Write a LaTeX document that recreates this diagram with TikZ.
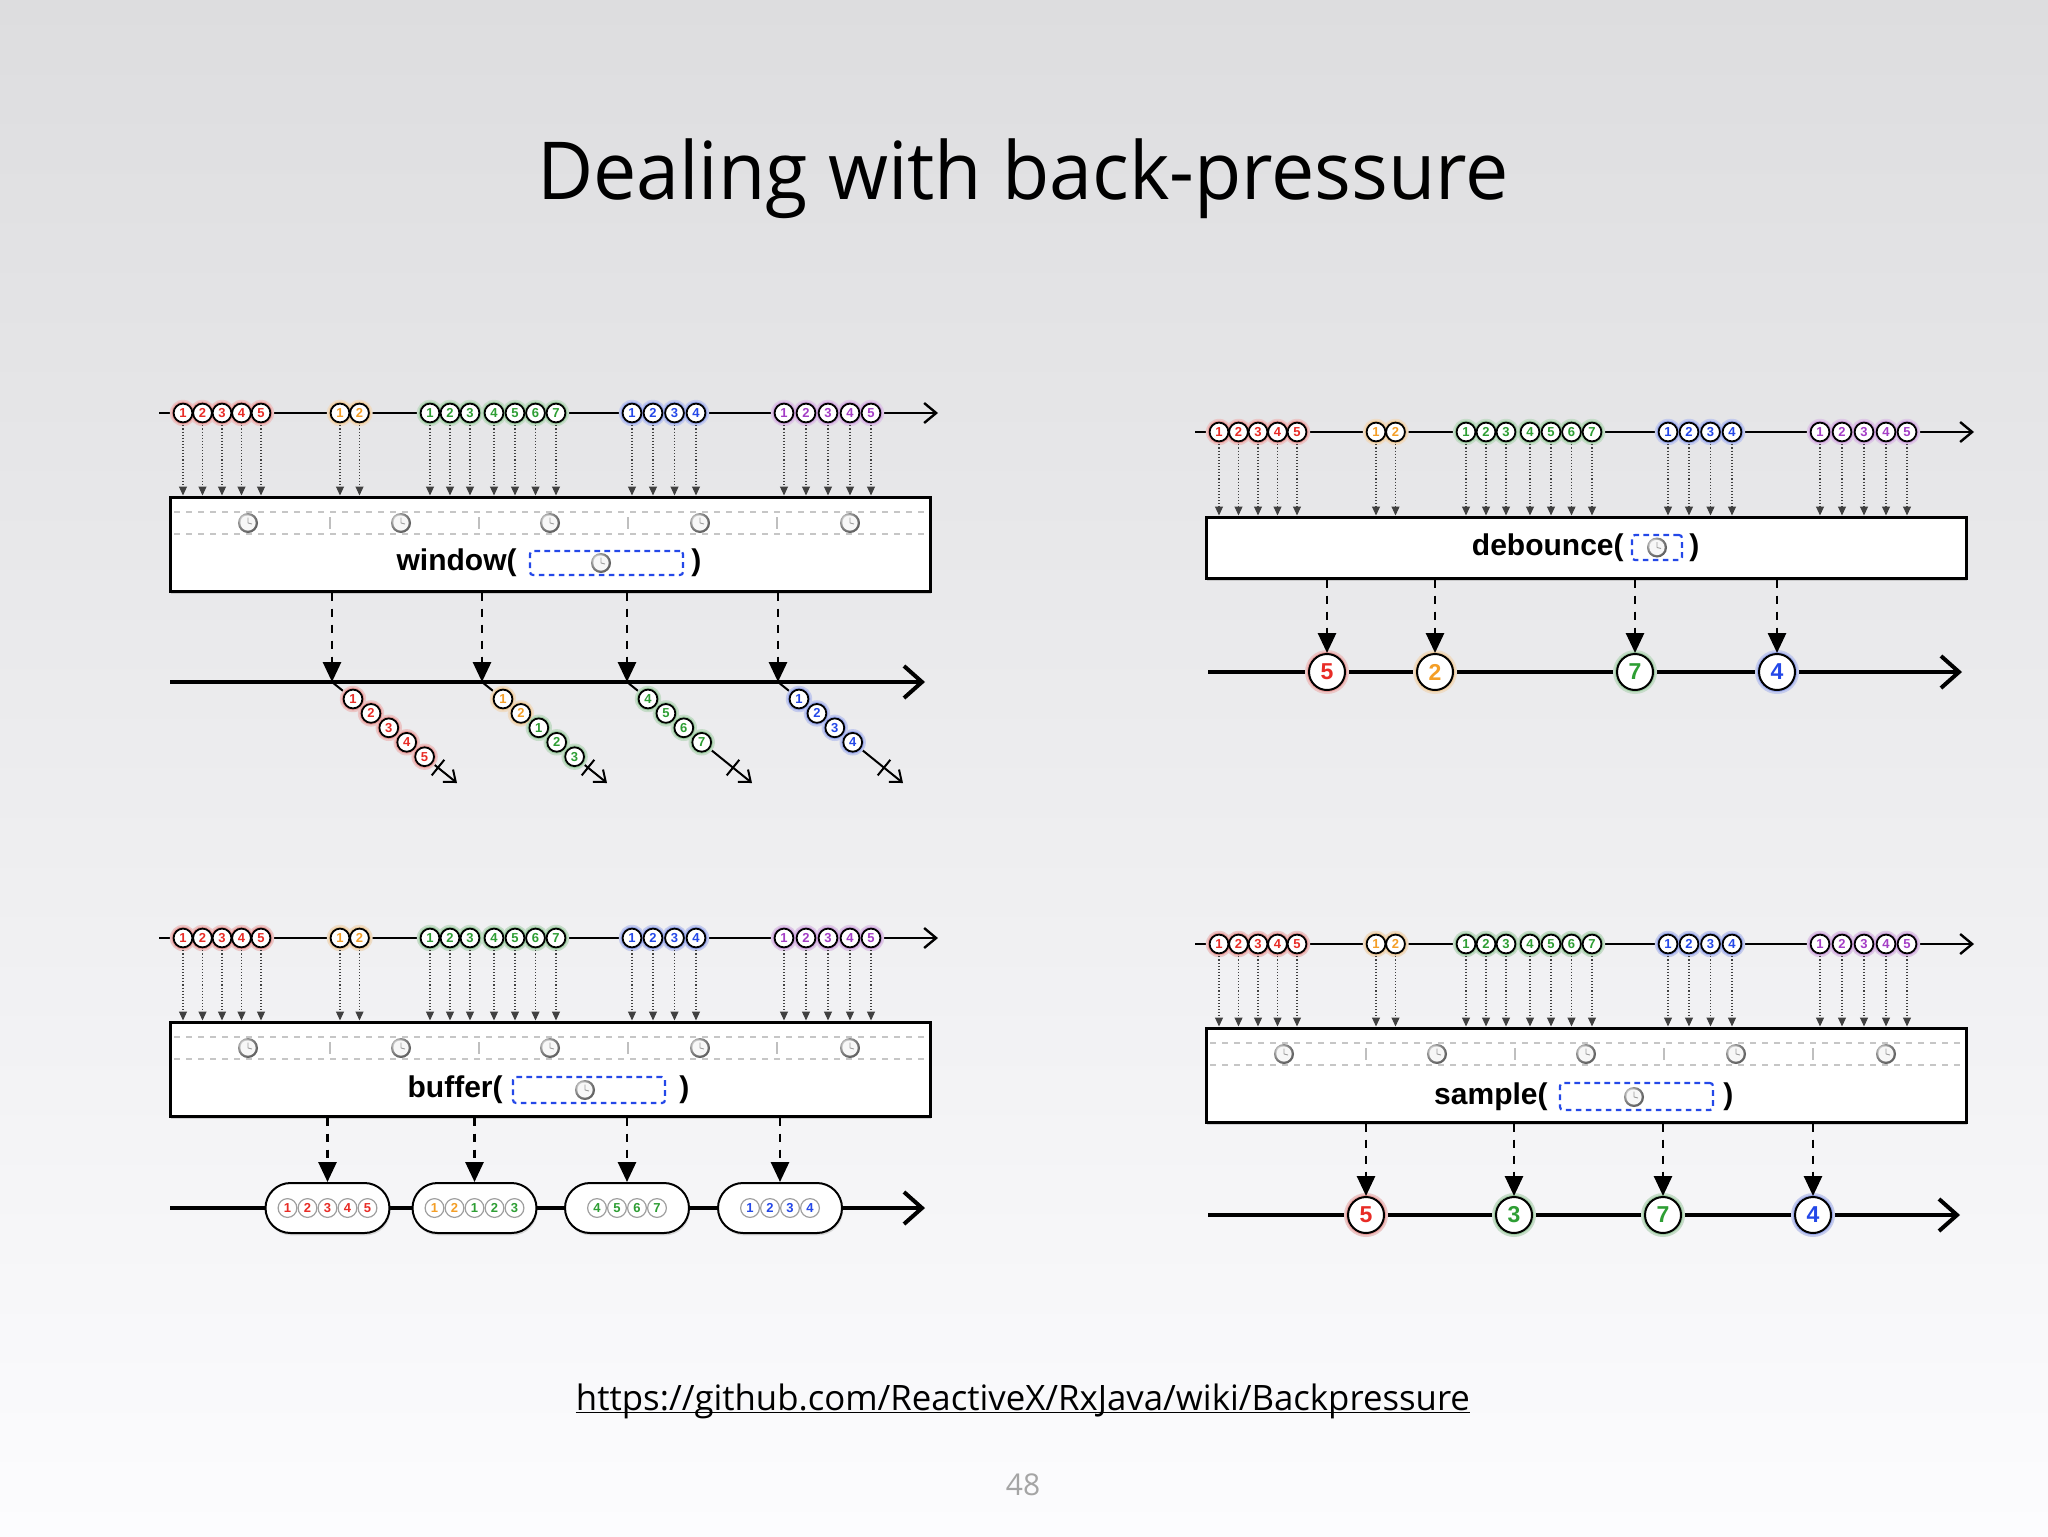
\documentclass[tikz,border=0pt]{standalone}
\usepackage{fontspec}
\setmainfont{Open Sans}
\newfontfamily\hel{Liberation Sans}
\usetikzlibrary{arrows.meta,shadows,calc,shapes.misc}
\definecolor{mred}{RGB}{232,44,38}
\definecolor{morange}{RGB}{244,158,38}
\definecolor{mgreen}{RGB}{46,158,52}
\definecolor{mblue}{RGB}{36,72,232}
\definecolor{mpurple}{RGB}{164,62,198}
\definecolor{bgc}{RGB}{236,236,238}
\definecolor{bgtop}{RGB}{221,221,223}
\definecolor{bgbot}{RGB}{252,252,254}
\definecolor{pgnum}{RGB}{165,165,165}
\tikzset{
  marble/.style={circle,draw=black,line width=0.9pt,fill=white,inner sep=0pt,minimum size=9.4pt,font=\hel\bfseries\fontsize{6.5}{6.5}\selectfont},
  bigmarble/.style={marble,minimum size=18pt,line width=1pt,font=\hel\bfseries\fontsize{11.5}{11.5}\selectfont},
  pmarble/.style={marble,draw=gray!75,line width=0.6pt},
  topline/.style={line width=1.2pt,-{Straight Barb[length=6pt,width=10pt,line width=1.2pt]}},
  outline/.style={line width=2pt,-{Straight Barb[length=9pt,width=16pt,line width=2pt]}},
  inarrow/.style={line width=0.55pt,black!75,densely dotted,-{Triangle[length=4.5pt,width=4pt]},shorten <=1pt},
  outarrow/.style={line width=1.4pt,dash pattern=on 4pt off 4pt,-{Triangle[length=10pt,width=9pt]}},
  opbox/.style={draw=black,line width=1.5pt,fill=white,inner sep=0pt,minimum width=380pt,drop shadow={shadow xshift=0.6pt,shadow yshift=-1.6pt,opacity=0.3}},
  argbox/.style={draw=mblue,line width=1.1pt,dash pattern=on 2.8pt off 2.2pt,rounded corners=1.5pt,inner sep=0pt},
  opfont/.style={font=\hel\bfseries\fontsize{15}{15}\selectfont,inner sep=0pt},
  diag/.style={line width=1pt,-{Straight Barb[length=5pt,width=8pt,line width=1pt]}},
  pill/.style={rounded rectangle,draw=black,line width=1pt,fill=white,minimum width=62pt,minimum height=25pt,inner sep=0pt,drop shadow={shadow xshift=0.5pt,shadow yshift=-1.2pt,opacity=0.25}},
  clockrow/.style={gray!45,line width=0.7pt,dash pattern=on 3pt off 3pt},
}
\newcommand\clk[1]{%
  \shade[ball color=gray!30] #1 circle (5pt);
  \fill[white!94!gray] #1 circle (3.8pt);
  \draw[gray!75,line width=0.45pt] #1 -- ++(0,-5.5) #1 -- ++(4,1);
}
\newcommand\marbles[5]{%
  \foreach \mx/\my/\mc/\mn in {#5} {\fill[\mc!20!bgc] (\mx,\my) circle (#3);}
  \foreach \mx/\my/\mc/\mn in {#5} {\fill[\mc!42!bgc] (\mx,\my) circle (#4);}
  \foreach \mx/\my/\mc/\mn [count=\mk] in {#5} {\node[#2,text=\mc] (#1\mk) at (\mx,\my) {\mn};}
}
\newcommand\toprow[1]{%
  \coordinate (#1-ts) at (159,413);
  \coordinate (#1-te) at (938,413);
  \draw[topline] (#1-ts) -- (#1-te);
  \marbles{#1-m}{marble}{6.6pt}{5.7pt}{183/413/mred/1, 202.5/413/mred/2, 222/413/mred/3, 241.5/413/mred/4, 261/413/mred/5,
    340/413/morange/1, 359.5/413/morange/2,
    430/413/mgreen/1, 450/413/mgreen/2, 470/413/mgreen/3, 494/413/mgreen/4, 515/413/mgreen/5, 535.5/413/mgreen/6, 556/413/mgreen/7,
    632/413/mblue/1, 653/413/mblue/2, 674.5/413/mblue/3, 696/413/mblue/4,
    784/413/mpurple/1, 806/413/mpurple/2, 828/413/mpurple/3, 850/413/mpurple/4, 871/413/mpurple/5}
  \foreach \k in {1,...,23} {\draw[inarrow] (#1-m\k) -- (#1-m\k |- #1-box.north);}
}
\newcommand\clockstrip{%
  \draw[clockrow] (174,512) -- (926,512) (174,534) -- (926,534);
  \foreach \x in {330,479,628,777} {\draw[gray!50,line width=0.6pt] (\x,517) -- (\x,529);}
  \foreach \x in {248,401,550,700,850} {\clk{(\x,523)}}
}
\begin{document}
\begin{tikzpicture}[x=0.5pt,y=-0.5pt]
\shade[top color=bgtop,bottom color=bgbot] (0,0) rectangle (2048,1536);
\useasboundingbox (0,0) rectangle (2048,1536);

% title, link, page number
\node[anchor=base,inner sep=0pt] (title) at (1023,199) {\resizebox{486pt}{\height}{\fontsize{40}{48}\selectfont Dealing with back-pressure}};
\node[anchor=base,inner sep=0pt] (url) at (1023,1410) {\resizebox{447pt}{\height}{\fontsize{17.5}{20}\selectfont https://github.com/ReactiveX/RxJava/wiki/Backpressure}};
\draw[line width=0.8pt] ([yshift=-1.3pt]url.base west) -- ([yshift=-1.3pt]url.base east);
\node[anchor=base,inner sep=0pt,text=pgnum,font=\fontsize{15}{18}\selectfont] (pg) at (1023,1495) {48};

% ---------- window ----------
\begin{scope}
\node[opbox,minimum height=47pt] (A-box) at (550,544) {};
\clockstrip
\node[opfont,anchor=east] (A-lbl) at (517,563) {window(};
\node[argbox,minimum width=76.5pt,minimum height=12pt] (A-arg) at (606.5,563) {};
\clk{(601,563)}
\node[opfont,anchor=west] (A-rp) at (691,563) {)};
\toprow{A}
\coordinate (A-ls) at (170,682);
\coordinate (A-le) at (925,682);
\draw[outline] (A-ls) -- (A-le);
\foreach \x [count=\i] in {332,482,627,778} {
  \coordinate (A-o\i) at (\x,682);
  \draw[outarrow] (A-o\i |- A-box.south) -- (A-o\i);
}
\foreach \i/\ex/\xx in {1/457/438,2/607/588,3/752/733,4/903/884} {
  \coordinate (A-d\i) at (\ex,783);
  \draw[diag] (A-o\i) -- (A-d\i);
  \draw[line width=1pt] (\xx+6.3,767.6-7.8) -- (\xx-6.3,767.6+7.8);
}
\marbles{A-wa}{marble}{6.6pt}{5.7pt}{353/699/mred/1, 371/713.4/mred/2, 388.8/727.8/mred/3, 406.7/742.3/mred/4, 424.6/756.7/mred/5}
\marbles{A-wb}{marble}{6.6pt}{5.7pt}{503/699/morange/1, 520.9/713.4/morange/2, 538.8/727.8/mgreen/1, 556.7/742.3/mgreen/2, 574.6/756.7/mgreen/3}
\marbles{A-wc}{marble}{6.6pt}{5.7pt}{648/699/mgreen/4, 665.9/713.4/mgreen/5, 683.8/727.8/mgreen/6, 701.7/742.3/mgreen/7}
\marbles{A-wd}{marble}{6.6pt}{5.7pt}{799/699/mblue/1, 816.9/713.4/mblue/2, 834.8/727.8/mblue/3, 852.7/742.3/mblue/4}
\end{scope}

% ---------- debounce ----------
\begin{scope}[shift={(1036,19)}]
\node[opbox,minimum height=30.5pt] (B-box) at (550,528.5) {};
\node[opfont,anchor=east] (B-lbl) at (588,529) {debounce(};
\node[argbox,minimum width=25pt,minimum height=12.5pt] (B-arg) at (621,528.5) {};
\clk{(621,528.5)}
\node[opfont,anchor=west] (B-rp) at (653,529) {)};
\toprow{B}
\coordinate (B-ls) at (172,653);
\coordinate (B-le) at (926,653);
\draw[outline] (B-ls) -- (B-le);
\marbles{B-r}{bigmarble}{11pt}{10pt}{291/653/mred/5, 399/653/morange/2, 599/653/mgreen/7, 741/653/mblue/4}
\foreach \i in {1,...,4} {\draw[outarrow] (B-r\i |- B-box.south) -- (B-r\i.north);}
\end{scope}

% ---------- buffer ----------
\begin{scope}[shift={(0,525)}]
\node[opbox,minimum height=47pt] (C-box) at (550,544) {};
\clockstrip
\node[opfont,anchor=east] (C-lbl) at (503,565) {buffer(};
\node[argbox,minimum width=76pt,minimum height=13pt] (C-arg) at (589,565) {};
\clk{(585,565)}
\node[opfont,anchor=west] (C-rp) at (679,565) {)};
\toprow{C}
\coordinate (C-ls) at (170,683);
\coordinate (C-le) at (925,683);
\draw[outline] (C-ls) -- (C-le);
\foreach \x [count=\i] in {327.5,474.5,627,780} {\node[pill] (C-p\i) at (\x,683) {};}
\foreach \i in {1,...,4} {\draw[outarrow] (C-p\i |- C-box.south) -- (C-p\i.north);}
\foreach \mx/\mc/\mn [count=\k] in {287.5/mred/1,307.5/mred/2,327.5/mred/3,347.5/mred/4,367.5/mred/5,
  434.5/morange/1,454.5/morange/2,474.5/mgreen/1,494.5/mgreen/2,514.5/mgreen/3,
  597/mgreen/4,617/mgreen/5,637/mgreen/6,657/mgreen/7,
  750/mblue/1,770/mblue/2,790/mblue/3,810/mblue/4}
  {\node[pmarble,text=\mc] (C-q\k) at (\mx,683) {\mn};}
\end{scope}

% ---------- sample ----------
\begin{scope}[shift={(1036,531)}]
\node[opbox,minimum height=47pt] (D-box) at (550,544) {};
\clockstrip
\node[opfont,anchor=east] (D-lbl) at (512,566) {sample(};
\node[argbox,minimum width=76.5pt,minimum height=13.5pt] (D-arg) at (600.5,565.5) {};
\clk{(598,566)}
\node[opfont,anchor=west] (D-rp) at (687,566) {)};
\toprow{D}
\coordinate (D-ls) at (172,684);
\coordinate (D-le) at (924,684);
\draw[outline] (D-ls) -- (D-le);
\marbles{D-r}{bigmarble}{11pt}{10pt}{330/684/mred/5, 478/684/mgreen/3, 627/684/mgreen/7, 777/684/mblue/4}
\foreach \i in {1,...,4} {\draw[outarrow] (D-r\i |- D-box.south) -- (D-r\i.north);}
\end{scope}
\end{tikzpicture}
\end{document}
